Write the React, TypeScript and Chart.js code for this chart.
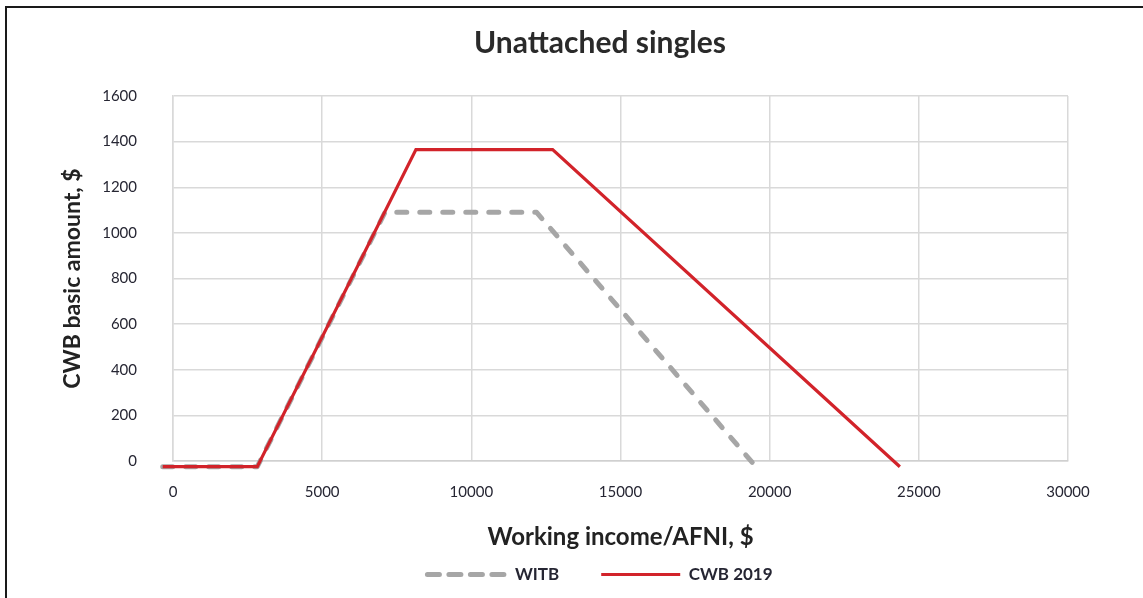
import React, { useEffect, useRef } from "react";
import { Chart, registerables } from "chart.js";

Chart.register(...registerables);

const TITLE = "Unattached singles";
const X_TITLE = "Working income/AFNI, $";
const Y_TITLE = "CWB basic amount, $";
const X_TICKS = [0, 5000, 10000, 15000, 20000, 25000, 30000];
const Y_TICKS = [0, 200, 400, 600, 800, 1000, 1200, 1400, 1600];
const SERIES_NAMES = ["WITB", "CWB 2019"];
const WITB_INCOME = [-345, 2825, 7105, 12188, 19540];
const WITB_AMOUNT = [-25, -25, 1090, 1090, -25];
const CWB_INCOME = [-345, 2825, 8143, 12725, 24364];
const CWB_AMOUNT = [-25, -25, 1365, 1365, -25];

const W = 1143;
const H = 598;
const FONT = "Lato, 'Open Sans', sans-serif";
const TEXT = "#262633";
const GRID = "#d9d9d9";
const LEGEND_DASH = [12, 9.5];

export default function App() {
  const ref = useRef<HTMLCanvasElement | null>(null);

  useEffect(() => {
    if (!ref.current) return;
    Chart.defaults.font.family = FONT;
    const chart = new Chart(ref.current, {
      type: "line",
      data: {
        datasets: [
          {
            label: SERIES_NAMES[0],
            data: WITB_INCOME.map((x, i) => ({ x, y: WITB_AMOUNT[i] })),
            borderColor: "#a6a6a6",
            backgroundColor: "#a6a6a6",
            borderWidth: 5,
            borderDash: [10, 13],
            borderCapStyle: "round",
            borderJoinStyle: "round",
            pointRadius: 0,
            pointHoverRadius: 0,
            fill: false,
            tension: 0,
            clip: false as any,
            order: 1,
          },
          {
            label: SERIES_NAMES[1],
            data: CWB_INCOME.map((x, i) => ({ x, y: CWB_AMOUNT[i] })),
            borderColor: "#d2232a",
            backgroundColor: "#d2232a",
            borderWidth: 3.2,
            borderCapStyle: "butt",
            borderJoinStyle: "miter",
            pointRadius: 0,
            pointHoverRadius: 0,
            fill: false,
            tension: 0,
            clip: false as any,
            order: 0,
          },
        ],
      },
      options: {
        responsive: false,
        animation: false,
        events: [],
        layout: { padding: { left: 57, right: 0, top: 0, bottom: 5 } },
        plugins: {
          tooltip: { enabled: false },
          title: {
            display: true,
            text: TITLE,
            color: "#2a2a2a",
            font: { family: FONT, size: 30, weight: "bold" },
            padding: { top: 25, bottom: 35 },
          },
          legend: {
            display: true,
            position: "bottom",
            labels: {
              usePointStyle: true,
              pointStyle: "line",
              pointStyleWidth: 79,
              boxHeight: 17,
              padding: 42,
              color: TEXT,
              font: { family: FONT, size: 17, weight: "bold" },
              sort: (a: any, b: any) => a.datasetIndex - b.datasetIndex,
              generateLabels: (c: any) => {
                const items = (Chart.defaults.plugins.legend.labels as any).generateLabels(c);
                items.forEach((it: any) => {
                  const ds: any = c.data.datasets[it.datasetIndex];
                  it.lineDash = ds.borderDash ? LEGEND_DASH : [];
                  it.lineCap = ds.borderCapStyle;
                  it.lineWidth = ds.borderWidth;
                  it.strokeStyle = ds.borderColor;
                });
                return items;
              },
            },
          },
        },
        scales: {
          x: {
            type: "linear",
            min: X_TICKS[0],
            max: X_TICKS[X_TICKS.length - 1],
            afterBuildTicks: (s: any) => {
              s.ticks = X_TICKS.map((v) => ({ value: v }));
            },
            afterFit: (s: any) => {
              s.height = 63;
            },
            grid: { color: GRID, lineWidth: 1.5, drawTicks: false },
            border: { display: true, color: "#d0d0d0", width: 1.5 },
            ticks: {
              padding: 22,
              color: TEXT,
              font: { family: FONT, size: 15 },
              maxRotation: 0,
              autoSkip: false,
              callback: (v: any) => String(v),
            },
            title: {
              display: true,
              text: X_TITLE,
              color: "#222222",
              font: { family: FONT, size: 24, weight: "bold" },
              padding: { top: 0, bottom: -27.4 },
            },
          },
          y: {
            type: "linear",
            position: "left",
            min: Y_TICKS[0],
            max: Y_TICKS[Y_TICKS.length - 1],
            afterBuildTicks: (s: any) => {
              s.ticks = Y_TICKS.map((v) => ({ value: v }));
            },
            afterFit: (s: any) => {
              s.width = 116;
            },
            grid: { color: GRID, lineWidth: 1.5, drawTicks: false },
            border: { display: true, color: GRID, width: 1.5 },
            ticks: {
              padding: 36,
              color: TEXT,
              font: { family: FONT, size: 15 },
              autoSkip: false,
              callback: (v: any) => String(v),
            },
            title: {
              display: true,
              text: Y_TITLE,
              color: "#222222",
              font: { family: FONT, size: 23, weight: "bold" },
              padding: { top: 2, bottom: 0 },
            },
          },
          yPad: {
            type: "linear",
            position: "right",
            display: true,
            grid: { display: false, drawTicks: false },
            border: { display: false },
            ticks: { display: false },
            afterFit: (s: any) => {
              s.width = 75;
            },
          },
        },
      },
    } as any);
    return () => chart.destroy();
  }, []);

  return (
    <div
      style={{
        position: "fixed",
        left: 0,
        top: 0,
        width: W,
        height: H,
        overflow: "hidden",
        background: "#ffffff",
      }}
    >
      <div
        style={{
          position: "absolute",
          left: 5,
          top: 6,
          width: W + 20,
          height: H + 20,
          borderTop: "2px solid #1a1a1a",
          borderLeft: "2px solid #1a1a1a",
        }}
      />
      <canvas
        ref={ref}
        width={W}
        height={H}
        style={{ position: "absolute", left: 0, top: 0, width: W, height: H }}
      />
    </div>
  );
}
